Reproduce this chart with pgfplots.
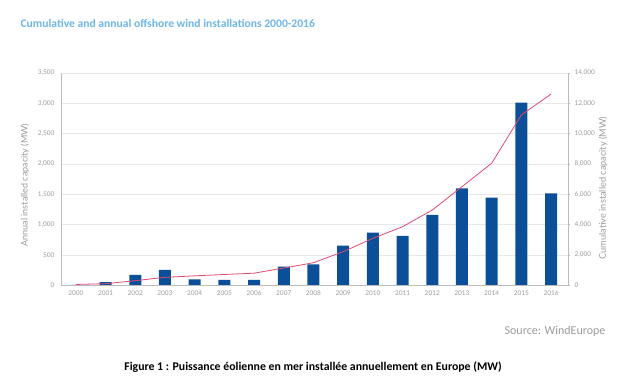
\documentclass[border=0pt]{standalone}
\usepackage{fontspec}
\usepackage{pgfplots}
\usepackage{pgfplotstable}
\pgfplotsset{compat=1.18}
\setmainfont{Lato}
\newfontfamily\carl{Carlito}
\definecolor{barblue}{HTML}{0B4F98}
\definecolor{linered}{HTML}{E04B72}
\definecolor{titleblue}{HTML}{6DB6E6}
\definecolor{txtgray}{HTML}{9A9A9A}
\definecolor{axgray}{HTML}{BBBBBB}
\pgfplotstableread{
x annual cumul
0 4 36
1 46 86
2 166 284
3 250 508
4 93 605
5 84 695
6 85 780
7 303 1120
8 342 1470
9 649 2200
10 863 3080
11 809 3850
12 1156 4950
13 1596 6490
14 1441 8040
15 3010 11230
16 1514 12610
}\datatab
\begin{document}
\begin{tikzpicture}
\useasboundingbox (0pt,0pt) rectangle (621pt,380pt);
\pgfplotsset{
  common/.style={
    at={(61pt,95pt)}, anchor=south west, scale only axis,
    width=507pt, height=212pt,
    xmin=-0.5, xmax=16.57, ymin=0,
    /pgf/number format/assume math mode=true,
    /pgf/number format/1000 sep={,},
    tick label style={font=\fontsize{6.5}{7.5}\selectfont, text=txtgray},
    axis line style={draw=axgray, line width=0.5pt},
    scaled y ticks=false,
  }
}
\begin{axis}[common,
  ymax=3500, ytick={0,500,...,3500},
  axis y line*=left, axis x line*=bottom,
  ymajorgrids, grid style={draw=gray!18, line width=0.4pt},
  xtick={0,...,16},
  xticklabels={2000,2001,2002,2003,2004,2005,2006,2007,2008,2009,2010,2011,2012,2013,2014,2015,2016},
  xtick style={draw=none},
  minor xtick={-0.5,0.5,...,16.5},
  minor tick length=2pt,
  minor tick style={draw=axgray},
  ytick style={draw=none},
  yticklabel style={xshift=-3pt},
  xticklabel style={yshift=-2pt},
  every axis y label/.style={at={(rel axis cs:0,0.5)}, xshift=-36pt, yshift=-6pt, rotate=90, anchor=center},
  ylabel={Annual installed capacity (MW)},
  ylabel style={font=\fontsize{9}{10}\selectfont, text=txtgray},
]
\addplot[ybar, bar width=12pt, fill=barblue, draw=none] table[x=x, y=annual] {\datatab};
\end{axis}
\begin{axis}[common,
  ymax=14000, ytick={0,2000,...,14000},
  axis y line*=right, axis x line=none,
  ytick style={draw=axgray},
  tick align=outside, major tick length=2pt,
  yticklabel style={xshift=1pt},
  every axis y label/.style={at={(rel axis cs:1,0.5)}, xshift=35pt, yshift=-9pt, rotate=90, anchor=center},
  ylabel={Cumulative installed capacity (MW)},
  ylabel style={font=\fontsize{9.2}{10}\selectfont, text=txtgray},
]
\addplot[sharp plot, draw=linered, line width=0.8pt, no marks] table[x=x, y=cumul] {\datatab};
\end{axis}
\node[anchor=west, text=titleblue, font=\carl\bfseries\fontsize{11.6}{13}\selectfont] at (17pt,357pt) {Cumulative and annual offshore wind installations 2000-2016};
\node[anchor=east, text=txtgray, font=\carl\fontsize{12}{14}\selectfont] at (609pt,49pt) {Source: WindEurope};
\node[anchor=center, font=\carl\bfseries\fontsize{11.8}{14}\selectfont] at (313pt,13pt) {Figure 1 : Puissance éolienne en mer installée annuellement en Europe (MW)};
\end{tikzpicture}
\end{document}
